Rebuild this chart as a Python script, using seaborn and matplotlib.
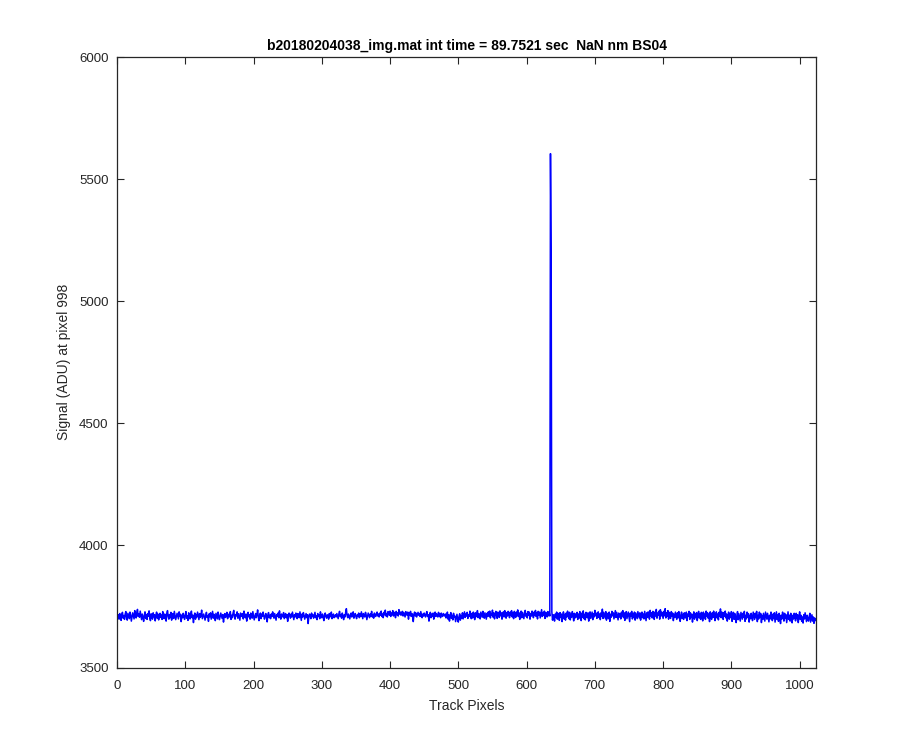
import numpy as np
import pandas as pd
import matplotlib
matplotlib.use("Agg")
import matplotlib.pyplot as plt
import seaborn as sns

title = "b20180204038_img.mat int time = 89.7521 sec  NaN nm BS04"
xlabel = "Track Pixels"
ylabel = "Signal (ADU) at pixel 998"
xticks = [0, 100, 200, 300, 400, 500, 600, 700, 800, 900, 1000]
yticks = [3500, 4000, 4500, 5000, 5500, 6000]

rows = [
[3705,3716,3698,3721,3709,3693,3718,3726,3702,3713,3697,3719,3729,3704,3694,3722,3710,3700,3727,3714,3690,3708,3724,3712,3699,3733,3716,3703,3725,3738,3709,3720],
[3706,3731,3713,3696,3719,3708,3689,3712,3728,3701,3717,3697,3721,3710,3732,3703,3692,3720,3711,3698,3724,3707,3716,3691,3714,3727,3702,3719,3695,3710,3722,3705],
[3715,3697,3729,3711,3700,3719,3707,3690,3723,3733,3709,3698,3717,3704,3726,3694,3712,3721,3701,3730,3713,3696,3708,3722,3711,3699,3728,3709,3718,3688,3714,3704],
[3722,3707,3697,3716,3729,3702,3712,3693,3724,3709,3699,3719,3731,3704,3714,3684,3710,3723,3698,3717,3707,3727,3711,3696,3721,3705,3714,3735,3700,3710,3719,3707],
[3694,3714,3726,3705,3712,3689,3720,3708,3724,3698,3714,3730,3702,3718,3709,3692,3722,3711,3699,3727,3713,3696,3707,3723,3711,3701,3717,3686,3710,3721,3705,3714],
[3726,3700,3711,3719,3707,3729,3697,3714,3704,3723,3734,3709,3698,3717,3712,3728,3702,3720,3707,3694,3723,3713,3709,3721,3699,3731,3711,3704,3719,3690,3714,3726],
[3707,3716,3698,3723,3711,3702,3729,3713,3695,3709,3721,3704,3717,3736,3707,3692,3711,3723,3700,3719,3709,3727,3714,3698,3707,3721,3711,3687,3716,3725,3704,3714],
[3700,3719,3709,3728,3713,3702,3721,3707,3694,3717,3711,3723,3704,3732,3709,3698,3719,3713,3707,3725,3700,3711,3721,3704,3717,3689,3710,3723,3713,3702,3719,3707],
[3727,3711,3696,3716,3707,3723,3709,3700,3721,3714,3704,3728,3711,3693,3719,3707,3725,3714,3698,3709,3721,3704,3716,3680,3707,3719,3711,3700,3723,3709,3716,3702],
[3714,3726,3704,3711,3696,3721,3709,3716,3700,3728,3711,3704,3719,3707,3692,3714,3723,3709,3702,3716,3711,3698,3721,3707,3714,3727,3700,3711,3719,3704,3709,3716],
[3707,3721,3711,3700,3719,3730,3709,3714,3702,3723,3711,3696,3716,3707,3726,3741,3713,3704,3719,3709,3699,3716,3723,3707,3711,3728,3702,3714,3721,3709,3700,3716],
[3711,3723,3704,3719,3709,3728,3714,3700,3721,3711,3707,3726,3716,3696,3709,3723,3714,3704,3719,3711,3730,3707,3716,3702,3723,3714,3709,3721,3727,3711,3719,3707],
[3723,3714,3731,3709,3719,3704,3726,3716,3735,3711,3721,3707,3729,3719,3714,3731,3709,3723,3716,3733,3711,3726,3719,3704,3730,3716,3723,3711,3737,3719,3727,3714],
[3721,3730,3711,3726,3716,3707,3729,3719,3714,3727,3698,3723,3716,3730,3709,3721,3714,3688,3719,3727,3711,3723,3707,3716,3726,3714,3721,3709,3729,3716,3704,3719],
[3711,3723,3714,3707,3721,3729,3709,3716,3690,3714,3726,3704,3719,3711,3723,3698,3716,3727,3709,3721,3714,3707,3726,3711,3719,3704,3723,3714,3709,3721,3716,3711],
[3719,3703,3714,3727,3698,3716,3690,3711,3725,3701,3714,3695,3722,3706,3711,3688,3704,3718,3697,3686,3709,3720,3694,3711,3702,3724,3699,3714,3728,3705,3719,3711],
[3726,3701,3716,3709,3731,3714,3700,3722,3703,3727,3714,3696,3724,3708,3718,3733,3704,3721,3713,3699,3727,3716,3706,3730,3719,3702,3724,3711,3698,3722,3709,3728],
[3711,3731,3703,3721,3714,3735,3706,3724,3699,3716,3730,3711,3701,3727,3719,3705,3732,3712,3724,3698,3719,3728,3707,3733,3714,3702,3725,3711,3730,3719,3704,3727],
[3713,3733,3707,3724,3700,3730,3719,3705,3727,3712,3736,3709,3724,3697,3719,3731,3704,3726,3714,3700,3723,3734,3710,3721,3703,3729,3714,3727,3698,3720,3711,3731],
[3719,3704,3727,3713,3734,3709,3725,3699,3730,3714,3727,3703,3719,3737,3709,3724,3713,3731,3701,3726,3718,3707,3729,3712,3727,3711,5605,5190,3728,3694,3716,3700],
[3690,3719,3706,3727,3698,3722,3712,3693,3725,3705,3719,3688,3714,3728,3699,3718,3694,3723,3707,3731,3713,3700,3726,3695,3718,3706,3729,3712,3691,3722,3703,3719],
[3707,3726,3697,3719,3702,3729,3713,3692,3723,3706,3732,3700,3718,3695,3726,3712,3704,3724,3690,3719,3728,3701,3714,3727,3696,3720,3707,3734,3712,3723,3701,3718],
[3728,3705,3719,3696,3724,3711,3739,3701,3726,3714,3703,3729,3694,3722,3712,3700,3727,3689,3718,3706,3730,3712,3724,3699,3717,3733,3705,3726,3711,3695,3723,3707],
[3720,3699,3727,3711,3733,3704,3724,3693,3718,3729,3700,3714,3727,3706,3688,3723,3711,3730,3699,3719,3705,3727,3694,3723,3712,3700,3729,3716,3703,3724,3694,3713],
[3727,3704,3719,3699,3730,3712,3692,3724,3705,3728,3716,3698,3734,3711,3724,3703,3730,3716,3697,3727,3711,3738,3702,3723,3714,3731,3698,3737,3711,3727,3715,3701],
[3730,3712,3741,3703,3724,3710,3733,3698,3726,3714,3701,3729,3711,3723,3692,3718,3705,3727,3712,3697,3724,3703,3729,3715,3689,3712,3727,3701,3718,3697,3724,3711],
[3703,3727,3692,3719,3710,3730,3697,3724,3705,3718,3686,3712,3728,3698,3719,3706,3725,3692,3714,3730,3703,3719,3697,3726,3711,3691,3727,3704,3719,3697,3731,3711],
[3725,3702,3719,3688,3728,3711,3697,3724,3705,3731,3716,3692,3714,3728,3703,3719,3695,3726,3711,3740,3704,3727,3716,3697,3725,3710,3731,3703,3719,3690,3712,3727],
[3698,3720,3705,3729,3689,3714,3726,3697,3721,3705,3684,3713,3729,3696,3720,3705,3690,3726,3711,3698,3722,3705,3730,3689,3714,3699,3727,3706,3721,3686,3714,3700],
[3722,3705,3692,3727,3711,3697,3722,3704,3730,3688,3714,3699,3727,3705,3721,3684,3713,3697,3722,3706,3690,3727,3712,3698,3722,3705,3687,3714,3699,3727,3706,3692],
[3719,3700,3724,3686,3707,3728,3697,3715,3689,3722,3705,3680,3714,3699,3727,3706,3690,3722,3701,3716,3684,3707,3728,3697,3714,3690,3722,3705,3683,3714,3699,3722],
[3708,3691,3722,3700,3716,3684,3709,3728,3697,3714,3689,3707,3682,3716,3699,3724,3705,3688,3714,3697,3690,3709,3722,3686,3701,3716,3690,3707,3681,3703,3692,3698],
]
for i, r in enumerate(rows):
    assert len(r) == 32, (i, len(r))

signal = [v for r in rows for v in r]
pixels = list(range(1, len(signal) + 1))
df = pd.DataFrame({"pixel": pixels, "signal": signal})

sns.set_style("white")
plt.rcParams["font.family"] = ["Liberation Sans", "DejaVu Sans"]
plt.rcParams["xtick.direction"] = "in"
plt.rcParams["ytick.direction"] = "in"

fig = plt.figure(figsize=(9, 7.5), dpi=100)
fig.patch.set_facecolor("white")
ax = fig.add_axes([0.13, 0.11, 0.7767, 0.8137])

sns.lineplot(data=df, x="pixel", y="signal", color=(0, 0, 1), linewidth=1.1, ax=ax, estimator=None)

ax.set_xlim(0, 1024)
ax.set_ylim(3500, 6000)
ax.set_xticks(xticks)
ax.set_yticks(yticks)
ax.tick_params(axis="both", which="both", direction="in", length=5, width=0.8,
               top=True, right=True, bottom=True, left=True, labelsize=9.5,
               colors="#262626", pad=6)
ax.tick_params(axis="x", pad=9)
for s in ax.spines.values():
    s.set_visible(True)
    s.set_color("#262626")
    s.set_linewidth(0.9)

ax.set_xlabel(xlabel, fontsize=10, color="#262626", labelpad=5)
ax.set_ylabel(ylabel, fontsize=10, color="#262626", labelpad=6)
ax.set_title(title, fontsize=10, fontweight="bold", color="black", pad=5)

fig.savefig("out.png", dpi=100, facecolor="white")
